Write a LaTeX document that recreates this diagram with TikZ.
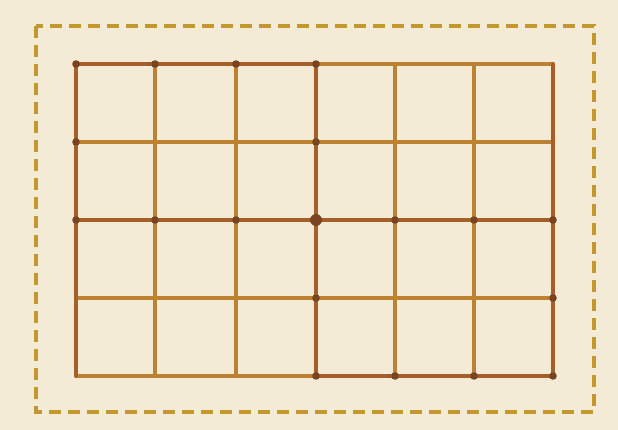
\documentclass[tikz,border=0pt]{standalone}
\begin{document}
\begin{tikzpicture}[x=1pt,y=-1pt,
  gridline/.style={draw=gridc,line width=3.6pt,line cap=round},
  boldline/.style={draw=boldc,line width=4pt,line cap=round},
  frame/.style={draw=framec,line width=4pt,dash pattern=on 12pt off 7pt},
  vdot/.style={fill=dotc},
]
\definecolor{bgc}{HTML}{F4EBD6}
\definecolor{gridc}{HTML}{BC8232}
\definecolor{boldc}{HTML}{A5602A}
\definecolor{framec}{HTML}{C3982F}
\definecolor{dotc}{HTML}{7A4420}
\fill[bgc] (0,0) rectangle (618,430);
\useasboundingbox (0,0) rectangle (618,430);
% vertex coordinates
\foreach \i/\x in {0/76,1/155,2/236,3/316,4/395,5/474,6/553}{
  \foreach \j/\y in {0/64,1/142,2/220,3/298,4/376}{
    \coordinate (v\i\j) at (\x,\y);
  }
}
% frame
\coordinate (f1) at (36,26);
\coordinate (f2) at (594,412);
\draw[frame] (f1) rectangle (f2);
% thin grid lines
\foreach \i in {1,2,4,5}{ \draw[gridline] (v\i0) -- (v\i4); }
\foreach \j in {1,3}{ \draw[gridline] (v0\j) -- (v6\j); }
\draw[gridline] (v30) -- (v60);
\draw[gridline] (v04) -- (v34);
% bold lines
\draw[boldline] (v00) -- (v30);
\draw[boldline] (v00) -- (v04);
\draw[boldline] (v30) -- (v34);
\draw[boldline] (v02) -- (v62);
\draw[boldline] (v60) -- (v64);
\draw[boldline] (v34) -- (v64);
% dots
\foreach \p in {v00,v10,v20,v30,v01,v31,v02,v12,v22,v42,v52,v62,v33,v63,v34,v44,v54,v64}{
  \fill[vdot] (\p) circle (3.8pt);
}
\fill[vdot] (v32) circle (6pt);
\end{tikzpicture}
\end{document}
